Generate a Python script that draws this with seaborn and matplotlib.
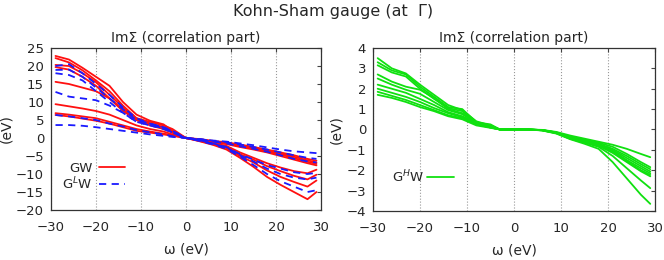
import numpy as np
import pandas as pd
import seaborn as sns
import matplotlib
matplotlib.use("Agg")
import matplotlib.pyplot as plt
from matplotlib.lines import Line2D

omega = [-29, -26, -23, -20, -17, -14, -11, -8, -5, -3, 0,
         3, 6, 9, 12, 15, 18, 21, 24, 27, 29]

# GW, Im Sigma (eV)
gw_curves = [
    [22.8, 21.8, 19.5, 17.0, 14.5, 10.0, 6.5, 4.8, 3.8, 2.0, 0,
     -0.3, -0.8, -1.2, -1.8, -2.5, -3.2, -4.0, -4.8, -5.8, -6.3],
    [22.2, 21.0, 18.8, 16.0, 13.0, 9.0, 5.5, 4.5, 3.5, 2.5, 0,
     -0.4, -1.0, -1.4, -2.0, -2.7, -3.5, -4.3, -5.2, -6.2, -6.8],
    [20.3, 20.0, 18.0, 15.5, 12.0, 8.5, 5.5, 4.0, 3.0, 1.5, 0,
     -0.4, -1.0, -1.5, -2.2, -3.0, -3.8, -4.6, -5.6, -6.6, -7.2],
    [19.7, 19.0, 17.0, 14.5, 11.0, 7.5, 5.0, 4.0, 3.0, 1.8, 0,
     -0.5, -1.2, -1.7, -2.5, -3.2, -4.0, -5.0, -6.0, -7.0, -7.6],
    [15.6, 15.0, 14.0, 13.0, 11.0, 8.0, 5.0, 3.5, 2.5, 1.5, 0,
     -0.6, -1.4, -2.2, -4.0, -5.5, -7.0, -8.2, -9.2, -9.8, -8.8],
    [9.4, 8.8, 8.2, 7.5, 6.5, 5.0, 3.5, 2.5, 1.8, 1.0, 0,
     -0.7, -1.5, -2.5, -4.5, -6.0, -7.8, -9.2, -10.5, -11.5, -10.2],
    [6.9, 6.5, 6.0, 5.5, 4.5, 3.5, 2.5, 1.8, 1.2, 0.8, 0,
     -0.8, -1.7, -2.8, -5.0, -6.8, -9.0, -10.8, -12.2, -13.5, -11.8],
    [6.4, 6.0, 5.4, 4.8, 4.0, 3.0, 2.0, 1.5, 1.0, 0.6, 0,
     -0.9, -1.9, -3.2, -5.5, -8.0, -10.8, -13.0, -15.0, -17.0, -15.0],
]

# G^L W
glw_curves = [
    [20.0, 20.5, 18.0, 15.0, 12.0, 8.5, 5.5, 4.0, 3.0, 2.0, 0,
     -0.3, -0.7, -1.0, -1.5, -2.0, -2.6, -3.2, -3.7, -4.0, -4.2],
    [18.9, 19.0, 17.0, 14.0, 11.0, 8.0, 5.0, 4.0, 3.0, 1.8, 0,
     -0.3, -0.8, -1.2, -1.8, -2.5, -3.2, -4.0, -4.8, -5.5, -5.8],
    [18.0, 17.5, 16.0, 13.0, 10.0, 7.0, 4.5, 3.5, 2.8, 1.5, 0,
     -0.4, -1.0, -1.5, -2.3, -3.0, -3.8, -4.8, -5.8, -6.5, -6.8],
    [12.8, 11.5, 11.0, 10.5, 9.0, 7.0, 4.5, 3.5, 2.5, 1.5, 0,
     -0.6, -1.5, -2.5, -4.5, -6.0, -7.5, -8.5, -9.5, -10.0, -9.7],
    [6.4, 6.0, 5.5, 5.0, 4.0, 3.2, 2.2, 1.6, 1.0, 0.5, 0,
     -0.7, -1.6, -2.6, -4.8, -6.5, -8.5, -10.0, -11.0, -11.5, -11.0],
    [3.6, 3.6, 3.4, 3.0, 2.5, 2.0, 1.5, 1.0, 0.6, 0.3, 0,
     -0.8, -1.8, -3.0, -5.2, -7.5, -10.0, -12.0, -13.5, -15.0, -14.5],
]

# G^H W
ghw_curves = [
    [3.50, 3.00, 2.75, 2.20, 1.70, 1.20, 0.95, 0.40, 0.20, 0.0, 0.0,
     0.0, -0.02, -0.12, -0.30, -0.45, -0.60, -0.75, -0.95, -1.20, -1.36],
    [3.30, 2.90, 2.70, 2.10, 1.60, 1.10, 1.00, 0.35, 0.25, 0.0, 0.0,
     0.0, -0.03, -0.14, -0.35, -0.50, -0.65, -0.85, -1.20, -1.60, -1.85],
    [3.15, 2.80, 2.60, 2.00, 1.50, 1.05, 0.90, 0.30, 0.15, 0.0, 0.0,
     0.0, -0.03, -0.15, -0.38, -0.55, -0.70, -0.95, -1.30, -1.70, -1.95],
    [2.70, 2.35, 2.10, 1.95, 1.55, 1.00, 0.80, 0.35, 0.20, 0.0, 0.0,
     0.0, -0.03, -0.15, -0.40, -0.55, -0.72, -1.00, -1.40, -1.80, -2.06],
    [2.50, 2.20, 1.95, 1.75, 1.35, 0.95, 0.75, 0.30, 0.15, 0.0, 0.0,
     0.0, -0.03, -0.16, -0.42, -0.58, -0.75, -1.05, -1.50, -1.90, -2.15],
    [2.20, 2.00, 1.80, 1.50, 1.20, 0.85, 0.65, 0.30, 0.10, 0.0, 0.0,
     0.0, -0.04, -0.17, -0.44, -0.60, -0.78, -1.10, -1.55, -2.00, -2.23],
    [2.00, 1.80, 1.60, 1.35, 1.05, 0.80, 0.60, 0.25, 0.10, 0.0, 0.0,
     0.0, -0.04, -0.18, -0.45, -0.62, -0.80, -1.15, -1.60, -2.05, -2.30],
    [1.85, 1.65, 1.45, 1.20, 0.95, 0.70, 0.55, 0.25, 0.10, 0.0, 0.0,
     0.0, -0.04, -0.18, -0.46, -0.65, -0.85, -1.30, -1.90, -2.50, -2.88],
    [1.70, 1.55, 1.35, 1.10, 0.90, 0.65, 0.50, 0.20, 0.08, 0.0, 0.0,
     0.0, -0.05, -0.20, -0.48, -0.70, -0.95, -1.60, -2.40, -3.20, -3.65],
]

left_yticks = [-20, -15, -10, -5, 0, 5, 10, 15, 20, 25]
right_yticks = [-4, -3, -2, -1, 0, 1, 2, 3, 4]
xticks = [-30, -20, -10, 0, 10, 20, 30]


def to_long(curves, method):
    rows = []
    for i, c in enumerate(curves):
        for w, v in zip(omega, c):
            rows.append({"omega": w, "val": v, "curve": f"{method}{i}", "method": method})
    return pd.DataFrame(rows)


sns.set_style("white")
plt.rcParams["font.family"] = ["DejaVu Sans"]

fig = plt.figure(figsize=(6.64, 2.60), dpi=100)
ax1 = fig.add_axes([0.0768, 0.1923, 0.4066, 0.623])
ax2 = fig.add_axes([0.5617, 0.1885, 0.4247, 0.627])

red = "#ff1010"
blue = "#1a1aff"
green = "#10e010"

sns.lineplot(data=to_long(gw_curves, "GW"), x="omega", y="val", units="curve",
             estimator=None, color=red, lw=1.3, ax=ax1)
sns.lineplot(data=to_long(glw_curves, "GLW"), x="omega", y="val", units="curve",
             estimator=None, color=blue, lw=1.3, ax=ax1)
for line in ax1.get_lines()[len(gw_curves):]:
    line.set_dashes([4, 3])
sns.lineplot(data=to_long(ghw_curves, "GHW"), x="omega", y="val", units="curve",
             estimator=None, color=green, lw=1.3, ax=ax2)

for ax, yt in [(ax1, left_yticks), (ax2, right_yticks)]:
    ax.set_xlim(-30, 30)
    ax.set_ylim(yt[0], yt[-1])
    ax.set_xticks(xticks)
    ax.set_yticks(yt)
    ax.tick_params(direction="in", top=True, right=True, length=3, labelsize=9.5,
                   color="#444444")
    ax.tick_params(axis="x", pad=8)
    ax.tick_params(axis="y", pad=5)
    ax.grid(axis="x", ls=":", color="#999999", lw=0.8)
    ax.grid(axis="y", visible=False)
    for s in ax.spines.values():
        s.set_color("#333333")
        s.set_linewidth(0.9)
    ax.set_xlabel("ω (eV)", fontsize=10, labelpad=6)
    ax.set_ylabel("(eV)", fontsize=10, labelpad=2)
    ax.set_title("ImΣ (correlation part)", fontsize=10, pad=4)

h1 = [Line2D([], [], color=red, lw=1.3),
      Line2D([], [], color=blue, lw=1.3, dashes=[4, 3])]
ax1.legend(h1, ["GW", r"G$^{L}$W"], loc="center right", bbox_to_anchor=(0.30, 0.205),
           frameon=False, markerfirst=False, fontsize=9.5, handlelength=2.0,
           handletextpad=0.5, labelspacing=0.05, borderpad=0)
h2 = [Line2D([], [], color=green, lw=1.3)]
ax2.legend(h2, [r"G$^{H}$W"], loc="center right", bbox_to_anchor=(0.31, 0.21),
           frameon=False, markerfirst=False, fontsize=9.5, handlelength=2.0,
           handletextpad=0.2, borderpad=0)

fig.text(0.502, 0.955, "Kohn-Sham gauge (at  Γ)", ha="center", va="center", fontsize=11.5)

fig.savefig("out.png", dpi=100)
